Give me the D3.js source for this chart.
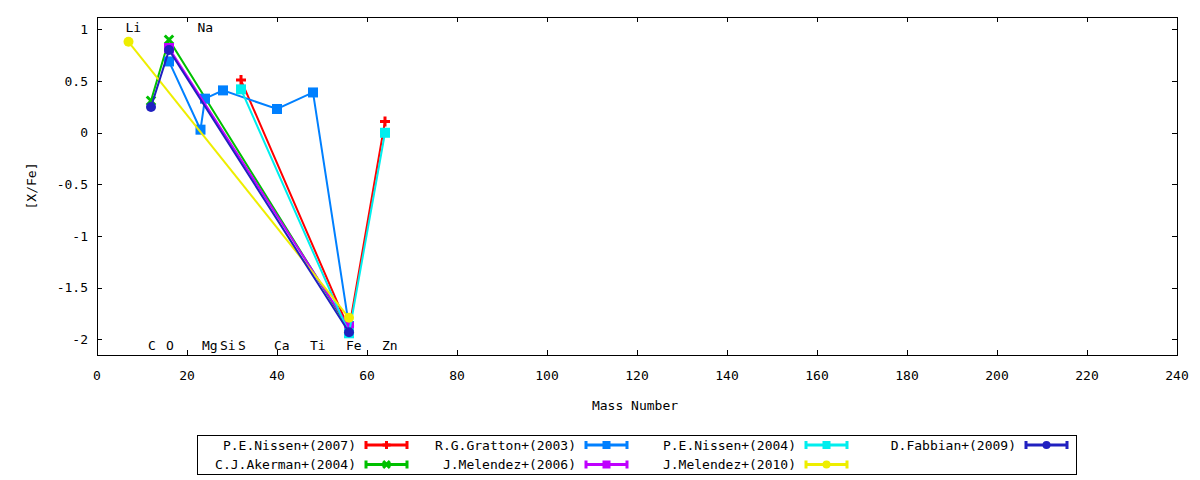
<!DOCTYPE html>
<html>
<head>
<meta charset="utf-8">
<script src="https://cdn.jsdelivr.net/npm/d3@7"></script>
<style>
  body { margin: 0; background: #fff; }
  text { font-family: "DejaVu Sans Mono", monospace; font-size: 13px; fill: #000; }
</style>
</head>
<body>
<div id="chart"></div>
<script>
const SVG_WIDTH = 1200;
const SVG_HEIGHT = 480;
const PLOT = { left: 97, right: 1177, top: 17, bottom: 355 };

// data: [mass number, [X/Fe]]
const SERIES_NAMES = [
    "P.E.Nissen+(2007)", "C.J.Akerman+(2004)", "R.G.Gratton+(2003)", "J.Melendez+(2006)",
    "P.E.Nissen+(2004)", "J.Melendez+(2010)", "D.Fabbian+(2009)"
];
const nissen2007 = [[32, 0.51], [56, -1.90], [64, 0.11]];
const akerman2004 = [[12, 0.31], [16, 0.90], [56, -1.90]];
const gratton2003 = [[16, 0.69], [23, 0.03], [24, 0.33], [28, 0.41], [40, 0.23], [48, 0.39], [56, -1.87]];
const melendez2006 = [[16, 0.82], [56, -1.88]];
const nissen2004 = [[32, 0.42], [56, -1.94], [64, 0.00]];
const melendez2010 = [[7, 0.88], [56, -1.79]];
const fabbian2009 = [[12, 0.25], [16, 0.80], [56, -1.93]];
const SERIES_VALUES = [nissen2007, akerman2004, gratton2003, melendez2006, nissen2004, melendez2010, fabbian2009];

const SERIES_COLORS = ["#ff0000", "#00c000", "#0080ff", "#c000ff", "#00eeee", "#eeee00", "#2020c0"];
const SERIES_MARKERS = ["plus", "cross", "square", "square", "square", "circle", "circle"];

const ELEMENTS = ["Li", "C", "O", "Na", "Mg", "Si", "S", "Ca", "Ti", "Fe", "Zn"];
const ELEMENT_MASS = [7, 12, 16, 23, 24, 28, 32, 40, 48, 56, 64];
const TOP_ELEMENTS = ["Li", "Na"];

const X_TICKS = d3.range(0, 241, 20);
const Y_TICKS = [-2, -1.5, -1, -0.5, 0, 0.5, 1];

const svg = d3.select("#chart")
    .append("svg")
    .attr("width", SVG_WIDTH)
    .attr("height", SVG_HEIGHT);

const xScale = d3.scaleLinear().domain([0, 240]).range([PLOT.left, PLOT.right]);
const yScale = d3.scaleLinear().domain([-2.15, 1.12]).range([PLOT.bottom, PLOT.top]);

const TICK = 5;

// ticks (inward, mirrored)
const axes = svg.append("g").attr("stroke", "#000").attr("stroke-width", 1);
X_TICKS.forEach(t => {
    const x = Math.round(xScale(t)) + 0.5;
    axes.append("line").attr("x1", x).attr("x2", x).attr("y1", PLOT.bottom).attr("y2", PLOT.bottom - TICK);
    axes.append("line").attr("x1", x).attr("x2", x).attr("y1", PLOT.top).attr("y2", PLOT.top + TICK);
});
Y_TICKS.forEach(t => {
    const y = Math.round(yScale(t)) + 0.5;
    axes.append("line").attr("x1", PLOT.left).attr("x2", PLOT.left + TICK).attr("y1", y).attr("y2", y);
    axes.append("line").attr("x1", PLOT.right).attr("x2", PLOT.right - TICK).attr("y1", y).attr("y2", y);
});

svg.selectAll(".xtick-label")
    .data(X_TICKS)
    .join("text")
    .attr("x", d => xScale(d))
    .attr("y", 375)
    .attr("text-anchor", "middle")
    .attr("dominant-baseline", "central")
    .text(d => d);

svg.selectAll(".ytick-label")
    .data(Y_TICKS)
    .join("text")
    .attr("x", 88)
    .attr("y", d => yScale(d))
    .attr("text-anchor", "end")
    .attr("dominant-baseline", "central")
    .text(d => d);

svg.append("text")
    .attr("x", 635)
    .attr("y", 405)
    .attr("text-anchor", "middle")
    .attr("dominant-baseline", "central")
    .text("Mass Number");

svg.append("text")
    .attr("transform", "translate(31,186) rotate(-90)")
    .attr("text-anchor", "middle")
    .attr("dominant-baseline", "central")
    .text("[X/Fe]");

// element labels
svg.selectAll(".element")
    .data(ELEMENTS)
    .join("text")
    .attr("x", (d, i) => xScale(ELEMENT_MASS[i]) - 3)
    .attr("y", d => TOP_ELEMENTS.includes(d) ? 27 : 345)
    .attr("dominant-baseline", "central")
    .text(d => d);

function drawMarker(g, type, x, y, size, color) {
    const h = size / 2;
    if (type === "square") {
        g.append("rect").attr("x", x - h).attr("y", y - h).attr("width", size).attr("height", size).attr("fill", color);
    } else if (type === "circle") {
        g.append("circle").attr("cx", x).attr("cy", y).attr("r", h).attr("fill", color);
    } else if (type === "plus") {
        g.append("path").attr("d", `M${x - h},${y}H${x + h}M${x},${y - h}V${y + h}`)
            .attr("stroke", color).attr("stroke-width", 3).attr("fill", "none");
    } else if (type === "cross") {
        const k = h * 0.85;
        g.append("path").attr("d", `M${x - k},${y - k}L${x + k},${y + k}M${x - k},${y + k}L${x + k},${y - k}`)
            .attr("stroke", color).attr("stroke-width", 3).attr("fill", "none");
    }
}

const line = d3.line().x(d => xScale(d[0])).y(d => yScale(d[1]));

const plot = svg.append("g");
SERIES_VALUES.forEach((values, i) => {
    const g = plot.append("g");
    g.append("path")
        .datum(values)
        .attr("d", line)
        .attr("fill", "none")
        .attr("stroke", SERIES_COLORS[i])
        .attr("stroke-width", 2);
    values.forEach(d => drawMarker(g, SERIES_MARKERS[i], xScale(d[0]), yScale(d[1]), 10, SERIES_COLORS[i]));
});

// frame
svg.append("rect")
    .attr("x", PLOT.left + 0.5).attr("y", PLOT.top + 0.5)
    .attr("width", PLOT.right - PLOT.left).attr("height", PLOT.bottom - PLOT.top)
    .attr("fill", "none").attr("stroke", "#000");

// legend
const legend = svg.append("g");
legend.append("rect")
    .attr("x", 197.5).attr("y", 435.5).attr("width", 879).attr("height", 39)
    .attr("fill", "none").attr("stroke", "#000");

SERIES_NAMES.forEach((name, i) => {
    const col = Math.floor(i / 2), row = i % 2;
    const x0 = 365 + col * 220, y0 = 445 + row * 19.5;
    const g = legend.append("g");
    g.append("text")
        .attr("x", x0 - 9).attr("y", y0)
        .attr("text-anchor", "end").attr("dominant-baseline", "central")
        .text(name);
    g.append("path")
        .attr("d", `M${x0},${y0}H${x0 + 43}M${x0 + 1},${y0 - 4}V${y0 + 4}M${x0 + 42},${y0 - 4}V${y0 + 4}`)
        .attr("stroke", SERIES_COLORS[i]).attr("stroke-width", 3).attr("fill", "none");
    drawMarker(g, SERIES_MARKERS[i], x0 + 21.5, y0, 8, SERIES_COLORS[i]);
});
</script>
</body>
</html>
